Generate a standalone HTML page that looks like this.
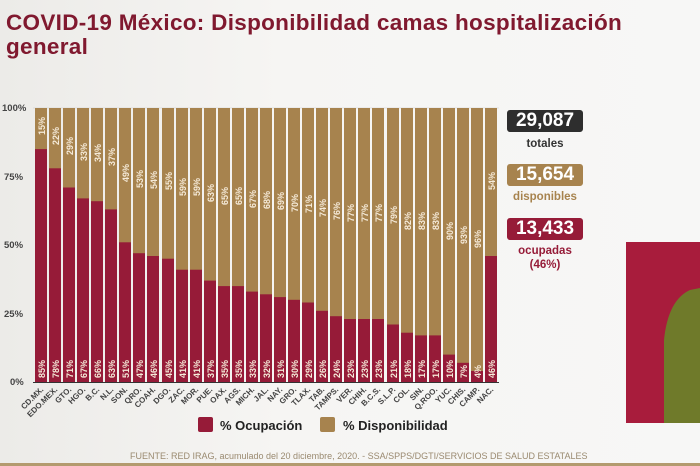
<!DOCTYPE html>
<html><head><meta charset="utf-8"><style>
body{margin:0;width:700px;height:466px;overflow:hidden;background:#f1f0ee;font-family:"Liberation Sans",sans-serif;position:relative}
.bg{position:absolute;inset:0;background:linear-gradient(90deg,#ecebe8 0%,#f6f5f3 40%,#f7f7f6 100%)}
h1{position:absolute;left:6px;top:11px;margin:0;font-size:22.5px;line-height:24px;color:#80192f;font-weight:bold;letter-spacing:0.3px}
svg{position:absolute;left:0;top:0}
.v{font-size:9px;font-weight:bold;fill:#f5ead8}
.l{font-size:8px;font-weight:bold;fill:#444}
.ax{font-size:9.5px;font-weight:bold;fill:#444}
.box{position:absolute;width:76px;height:22px;border-radius:3px;color:#fff;font-weight:bold;font-size:19px;text-align:center;line-height:22px}
.cap{position:absolute;width:80px;text-align:center;font-weight:bold;font-size:11.5px;line-height:14px}
</style></head><body>
<div class="bg"></div>
<h1>COVID-19 México: Disponibilidad camas hospitalización<br>general</h1>
<svg width="700" height="466">
<g class="ax"><text x="2" y="111">100%</text><text x="4" y="180">75%</text><text x="4" y="248">50%</text><text x="4" y="317">25%</text><text x="10" y="385">0%</text></g>
<line x1="33" y1="108" x2="499" y2="108" stroke="#ccc" stroke-width="0.5"/>
<line x1="33" y1="382.5" x2="499" y2="382.5" stroke="#333" stroke-width="1"/>
<g id="bars">
<g transform="translate(35)"><rect y="108" width="12" height="274" fill="#a7834e"/><rect y="149.1" width="12" height="232.9" fill="#961b38"/><text class="v" transform="translate(10,378) rotate(-90)">85%</text><text class="v" text-anchor="end" transform="translate(10,117) rotate(-90)">15%</text><text class="l" text-anchor="end" transform="translate(9,390) rotate(-45)">CD.MX.</text></g>
<g transform="translate(49)"><rect y="108" width="12" height="274" fill="#a7834e"/><rect y="168.3" width="12" height="213.7" fill="#961b38"/><text class="v" transform="translate(10,378) rotate(-90)">78%</text><text class="v" text-anchor="end" transform="translate(10,127) rotate(-90)">22%</text><text class="l" text-anchor="end" transform="translate(9,390) rotate(-45)">EDO.MEX.</text></g>
<g transform="translate(63)"><rect y="108" width="12" height="274" fill="#a7834e"/><rect y="187.5" width="12" height="194.5" fill="#961b38"/><text class="v" transform="translate(10,378) rotate(-90)">71%</text><text class="v" text-anchor="end" transform="translate(10,137) rotate(-90)">29%</text><text class="l" text-anchor="end" transform="translate(9,390) rotate(-45)">GTO.</text></g>
<g transform="translate(77)"><rect y="108" width="12" height="274" fill="#a7834e"/><rect y="198.4" width="12" height="183.6" fill="#961b38"/><text class="v" transform="translate(10,378) rotate(-90)">67%</text><text class="v" text-anchor="end" transform="translate(10,143) rotate(-90)">33%</text><text class="l" text-anchor="end" transform="translate(9,390) rotate(-45)">HGO.</text></g>
<g transform="translate(91)"><rect y="108" width="12" height="274" fill="#a7834e"/><rect y="201.2" width="12" height="180.8" fill="#961b38"/><text class="v" transform="translate(10,378) rotate(-90)">66%</text><text class="v" text-anchor="end" transform="translate(10,144) rotate(-90)">34%</text><text class="l" text-anchor="end" transform="translate(9,390) rotate(-45)">B.C.</text></g>
<g transform="translate(105)"><rect y="108" width="12" height="274" fill="#a7834e"/><rect y="209.4" width="12" height="172.6" fill="#961b38"/><text class="v" transform="translate(10,378) rotate(-90)">63%</text><text class="v" text-anchor="end" transform="translate(10,148) rotate(-90)">37%</text><text class="l" text-anchor="end" transform="translate(9,390) rotate(-45)">N.L.</text></g>
<g transform="translate(119)"><rect y="108" width="12" height="274" fill="#a7834e"/><rect y="242.3" width="12" height="139.7" fill="#961b38"/><text class="v" transform="translate(10,378) rotate(-90)">51%</text><text class="v" text-anchor="end" transform="translate(10,164) rotate(-90)">49%</text><text class="l" text-anchor="end" transform="translate(9,390) rotate(-45)">SON.</text></g>
<g transform="translate(133)"><rect y="108" width="12" height="274" fill="#a7834e"/><rect y="253.2" width="12" height="128.8" fill="#961b38"/><text class="v" transform="translate(10,378) rotate(-90)">47%</text><text class="v" text-anchor="end" transform="translate(10,170) rotate(-90)">53%</text><text class="l" text-anchor="end" transform="translate(9,390) rotate(-45)">QRO.</text></g>
<g transform="translate(147)"><rect y="108" width="12" height="274" fill="#a7834e"/><rect y="256" width="12" height="126" fill="#961b38"/><text class="v" transform="translate(10,378) rotate(-90)">46%</text><text class="v" text-anchor="end" transform="translate(10,171) rotate(-90)">54%</text><text class="l" text-anchor="end" transform="translate(9,390) rotate(-45)">COAH.</text></g>
<g transform="translate(162)"><rect y="108" width="12" height="274" fill="#a7834e"/><rect y="258.7" width="12" height="123.3" fill="#961b38"/><text class="v" transform="translate(10,378) rotate(-90)">45%</text><text class="v" text-anchor="end" transform="translate(10,172) rotate(-90)">55%</text><text class="l" text-anchor="end" transform="translate(9,390) rotate(-45)">DGO.</text></g>
<g transform="translate(176)"><rect y="108" width="12" height="274" fill="#a7834e"/><rect y="269.7" width="12" height="112.3" fill="#961b38"/><text class="v" transform="translate(10,378) rotate(-90)">41%</text><text class="v" text-anchor="end" transform="translate(10,178) rotate(-90)">59%</text><text class="l" text-anchor="end" transform="translate(9,390) rotate(-45)">ZAC.</text></g>
<g transform="translate(190)"><rect y="108" width="12" height="274" fill="#a7834e"/><rect y="269.7" width="12" height="112.3" fill="#961b38"/><text class="v" transform="translate(10,378) rotate(-90)">41%</text><text class="v" text-anchor="end" transform="translate(10,178) rotate(-90)">59%</text><text class="l" text-anchor="end" transform="translate(9,390) rotate(-45)">MOR.</text></g>
<g transform="translate(204)"><rect y="108" width="12" height="274" fill="#a7834e"/><rect y="280.6" width="12" height="101.4" fill="#961b38"/><text class="v" transform="translate(10,378) rotate(-90)">37%</text><text class="v" text-anchor="end" transform="translate(10,184) rotate(-90)">63%</text><text class="l" text-anchor="end" transform="translate(9,390) rotate(-45)">PUE.</text></g>
<g transform="translate(218)"><rect y="108" width="12" height="274" fill="#a7834e"/><rect y="286.1" width="12" height="95.9" fill="#961b38"/><text class="v" transform="translate(10,378) rotate(-90)">35%</text><text class="v" text-anchor="end" transform="translate(10,187) rotate(-90)">65%</text><text class="l" text-anchor="end" transform="translate(9,390) rotate(-45)">OAX.</text></g>
<g transform="translate(232)"><rect y="108" width="12" height="274" fill="#a7834e"/><rect y="286.1" width="12" height="95.9" fill="#961b38"/><text class="v" transform="translate(10,378) rotate(-90)">35%</text><text class="v" text-anchor="end" transform="translate(10,187) rotate(-90)">65%</text><text class="l" text-anchor="end" transform="translate(9,390) rotate(-45)">AGS.</text></g>
<g transform="translate(246)"><rect y="108" width="12" height="274" fill="#a7834e"/><rect y="291.6" width="12" height="90.4" fill="#961b38"/><text class="v" transform="translate(10,378) rotate(-90)">33%</text><text class="v" text-anchor="end" transform="translate(10,190) rotate(-90)">67%</text><text class="l" text-anchor="end" transform="translate(9,390) rotate(-45)">MICH.</text></g>
<g transform="translate(260)"><rect y="108" width="12" height="274" fill="#a7834e"/><rect y="294.3" width="12" height="87.7" fill="#961b38"/><text class="v" transform="translate(10,378) rotate(-90)">32%</text><text class="v" text-anchor="end" transform="translate(10,191) rotate(-90)">68%</text><text class="l" text-anchor="end" transform="translate(9,390) rotate(-45)">JAL.</text></g>
<g transform="translate(274)"><rect y="108" width="12" height="274" fill="#a7834e"/><rect y="297.1" width="12" height="84.9" fill="#961b38"/><text class="v" transform="translate(10,378) rotate(-90)">31%</text><text class="v" text-anchor="end" transform="translate(10,192) rotate(-90)">69%</text><text class="l" text-anchor="end" transform="translate(9,390) rotate(-45)">NAY.</text></g>
<g transform="translate(288)"><rect y="108" width="12" height="274" fill="#a7834e"/><rect y="299.8" width="12" height="82.2" fill="#961b38"/><text class="v" transform="translate(10,378) rotate(-90)">30%</text><text class="v" text-anchor="end" transform="translate(10,194) rotate(-90)">70%</text><text class="l" text-anchor="end" transform="translate(9,390) rotate(-45)">GRO.</text></g>
<g transform="translate(302)"><rect y="108" width="12" height="274" fill="#a7834e"/><rect y="302.5" width="12" height="79.5" fill="#961b38"/><text class="v" transform="translate(10,378) rotate(-90)">29%</text><text class="v" text-anchor="end" transform="translate(10,195) rotate(-90)">71%</text><text class="l" text-anchor="end" transform="translate(9,390) rotate(-45)">TLAX.</text></g>
<g transform="translate(316)"><rect y="108" width="12" height="274" fill="#a7834e"/><rect y="310.8" width="12" height="71.2" fill="#961b38"/><text class="v" transform="translate(10,378) rotate(-90)">26%</text><text class="v" text-anchor="end" transform="translate(10,199) rotate(-90)">74%</text><text class="l" text-anchor="end" transform="translate(9,390) rotate(-45)">TAB.</text></g>
<g transform="translate(330)"><rect y="108" width="12" height="274" fill="#a7834e"/><rect y="316.2" width="12" height="65.8" fill="#961b38"/><text class="v" transform="translate(10,378) rotate(-90)">24%</text><text class="v" text-anchor="end" transform="translate(10,202) rotate(-90)">76%</text><text class="l" text-anchor="end" transform="translate(9,390) rotate(-45)">TAMPS.</text></g>
<g transform="translate(344)"><rect y="108" width="12" height="274" fill="#a7834e"/><rect y="319" width="12" height="63" fill="#961b38"/><text class="v" transform="translate(10,378) rotate(-90)">23%</text><text class="v" text-anchor="end" transform="translate(10,204) rotate(-90)">77%</text><text class="l" text-anchor="end" transform="translate(9,390) rotate(-45)">VER.</text></g>
<g transform="translate(358)"><rect y="108" width="12" height="274" fill="#a7834e"/><rect y="319" width="12" height="63" fill="#961b38"/><text class="v" transform="translate(10,378) rotate(-90)">23%</text><text class="v" text-anchor="end" transform="translate(10,204) rotate(-90)">77%</text><text class="l" text-anchor="end" transform="translate(9,390) rotate(-45)">CHIH.</text></g>
<g transform="translate(372)"><rect y="108" width="12" height="274" fill="#a7834e"/><rect y="319" width="12" height="63" fill="#961b38"/><text class="v" transform="translate(10,378) rotate(-90)">23%</text><text class="v" text-anchor="end" transform="translate(10,204) rotate(-90)">77%</text><text class="l" text-anchor="end" transform="translate(9,390) rotate(-45)">B.C.S.</text></g>
<g transform="translate(387)"><rect y="108" width="12" height="274" fill="#a7834e"/><rect y="324.5" width="12" height="57.5" fill="#961b38"/><text class="v" transform="translate(10,378) rotate(-90)">21%</text><text class="v" text-anchor="end" transform="translate(10,206) rotate(-90)">79%</text><text class="l" text-anchor="end" transform="translate(9,390) rotate(-45)">S.L.P.</text></g>
<g transform="translate(401)"><rect y="108" width="12" height="274" fill="#a7834e"/><rect y="332.7" width="12" height="49.3" fill="#961b38"/><text class="v" transform="translate(10,378) rotate(-90)">18%</text><text class="v" text-anchor="end" transform="translate(10,212) rotate(-90)">82%</text><text class="l" text-anchor="end" transform="translate(9,390) rotate(-45)">COL.</text></g>
<g transform="translate(415)"><rect y="108" width="12" height="274" fill="#a7834e"/><rect y="335.4" width="12" height="46.6" fill="#961b38"/><text class="v" transform="translate(10,378) rotate(-90)">17%</text><text class="v" text-anchor="end" transform="translate(10,212) rotate(-90)">83%</text><text class="l" text-anchor="end" transform="translate(9,390) rotate(-45)">SIN.</text></g>
<g transform="translate(429)"><rect y="108" width="12" height="274" fill="#a7834e"/><rect y="335.4" width="12" height="46.6" fill="#961b38"/><text class="v" transform="translate(10,378) rotate(-90)">17%</text><text class="v" text-anchor="end" transform="translate(10,212) rotate(-90)">83%</text><text class="l" text-anchor="end" transform="translate(9,390) rotate(-45)">Q.ROO.</text></g>
<g transform="translate(443)"><rect y="108" width="12" height="274" fill="#a7834e"/><rect y="354.6" width="12" height="27.4" fill="#961b38"/><text class="v" transform="translate(10,378) rotate(-90)">10%</text><text class="v" text-anchor="end" transform="translate(10,222) rotate(-90)">90%</text><text class="l" text-anchor="end" transform="translate(9,390) rotate(-45)">YUC.</text></g>
<g transform="translate(457)"><rect y="108" width="12" height="274" fill="#a7834e"/><rect y="362.8" width="12" height="19.2" fill="#961b38"/><text class="v" transform="translate(10,378) rotate(-90)">7%</text><text class="v" text-anchor="end" transform="translate(10,226) rotate(-90)">93%</text><text class="l" text-anchor="end" transform="translate(9,390) rotate(-45)">CHIS.</text></g>
<g transform="translate(471)"><rect y="108" width="12" height="274" fill="#a7834e"/><rect y="371" width="12" height="11" fill="#961b38"/><text class="v" transform="translate(10,378) rotate(-90)">4%</text><text class="v" text-anchor="end" transform="translate(10,230) rotate(-90)">96%</text><text class="l" text-anchor="end" transform="translate(9,390) rotate(-45)">CAMP.</text></g>
<g transform="translate(485)"><rect y="108" width="12" height="274" fill="#a7834e"/><rect y="256" width="12" height="126" fill="#961b38"/><text class="v" transform="translate(10,378) rotate(-90)">46%</text><text class="v" text-anchor="end" transform="translate(10,172) rotate(-90)">54%</text><text class="l" text-anchor="end" transform="translate(9,390) rotate(-45)">NAC.</text></g>
</g>
<rect x="198" y="417" width="15" height="15" rx="2" fill="#961b38"/>
<text x="220" y="430" font-size="13" font-weight="bold" fill="#222">% Ocupación</text>
<rect x="320" y="417" width="15" height="15" rx="2" fill="#a7834e"/>
<text x="343" y="430" font-size="13" font-weight="bold" fill="#222">% Disponibilidad</text>
<text x="130" y="459" font-size="9" fill="#9a8a70">FUENTE: RED IRAG, acumulado del 20 diciembre, 2020. -  SSA/SPPS/DGTI/SERVICIOS DE SALUD ESTATALES</text>
<rect x="0" y="463" width="700" height="3" fill="#b39a6e"/>
<rect x="626" y="242" width="74" height="181" fill="#a81c3c"/>
<path d="M664 423 L664 340 Q668 300 690 290 L700 288 L700 423 Z" fill="#6f7a2a"/>
</svg>
<div class="box" style="left:507px;top:110px;background:#2e2e2e">29,087</div>
<div class="cap" style="left:505px;top:137px;color:#333">totales</div>
<div class="box" style="left:507px;top:164px;background:#a7834e">15,654</div>
<div class="cap" style="left:505px;top:190px;color:#a7834e">disponibles</div>
<div class="box" style="left:507px;top:218px;background:#961b38">13,433</div>
<div class="cap" style="left:505px;top:244px;color:#961b38">ocupadas<br>(46%)</div>
</body></html>
